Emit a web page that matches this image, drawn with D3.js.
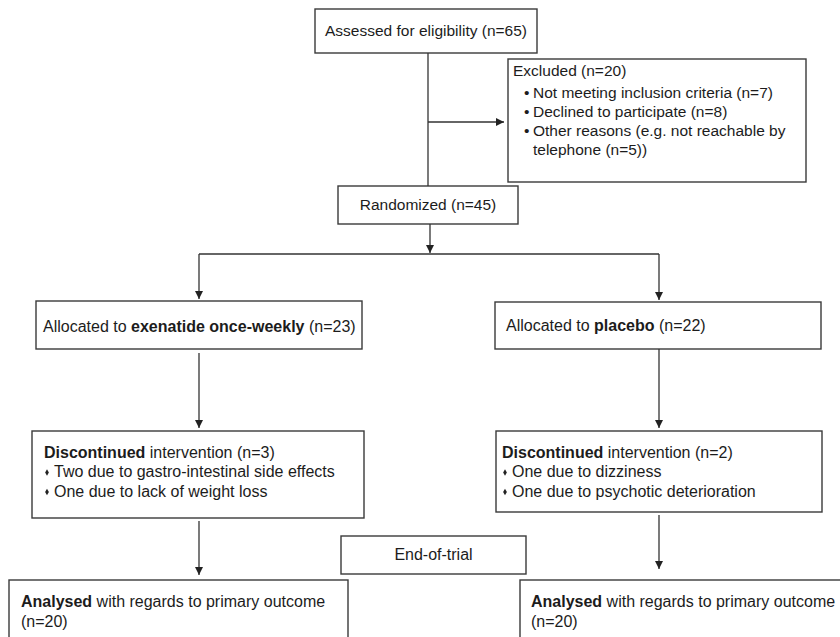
<!DOCTYPE html>
<html>
<head>
    <title>Trial flow diagram</title>
    <script src="https://cdnjs.cloudflare.com/ajax/libs/d3/7.8.5/d3.min.js"></script>
    <style>
        body {
            margin: 0;
            padding: 0;
            background: white;
        }
        svg text {
            font-family: "Liberation Sans", Arial, Helvetica, sans-serif;
            fill: #1c1c1c;
        }
    </style>
</head>
<body>
    <svg id="flow" width="840" height="637"></svg>

    <script>
        // Flow data
        const stageLabels = ["Assessed for eligibility", "Randomized"];
        const stageCounts = [65, 45];
        const excludedTotal = 20;
        const exclusionReasons = ["Not meeting inclusion criteria", "Declined to participate", "Other reasons (e.g. not reachable by telephone"];
        const exclusionCounts = [7, 8, 5];
        const arms = ["exenatide once-weekly", "placebo"];
        const allocatedCounts = [23, 22];
        const discontinuedCounts = [3, 2];
        const discontinuedReasons = [
            ["Two due to gastro-intestinal side effects", "One due to lack of weight loss"],
            ["One due to dizziness", "One due to psychotic deterioration"]
        ];
        const analysedCounts = [20, 20];
        const phaseLabel = "End-of-trial";

        const svg = d3.select('#flow');
        const stroke = '#333';

        // column centres for the two arms
        const armX = d3.scalePoint().domain(arms).range([199, 659]);
        const mainX = 428;

        // arrowhead
        svg.append('defs').append('marker')
            .attr('id', 'arrow')
            .attr('viewBox', '0 0 10 10')
            .attr('refX', 10)
            .attr('refY', 5)
            .attr('markerWidth', 8)
            .attr('markerHeight', 8)
            .attr('markerUnits', 'userSpaceOnUse')
            .attr('orient', 'auto')
            .append('path')
            .attr('d', 'M0,0L10,5L0,10Z')
            .attr('fill', '#222');

        // Boxes (layout only)
        const boxes = [
            {x: 315, y: 9, w: 222, h: 44},
            {x: 508, y: 59, w: 298, h: 123},
            {x: 338, y: 186, w: 180, h: 38},
            {x: 36, y: 301, w: 326, h: 48},
            {x: 495, y: 302, w: 326, h: 47},
            {x: 32, y: 431, w: 332, h: 87},
            {x: 496, y: 431, w: 326, h: 81},
            {x: 341, y: 536, w: 185, h: 38},
            {x: 9, y: 580, w: 339, h: 80},
            {x: 520, y: 580, w: 340, h: 80}
        ];

        svg.append('g').selectAll('rect')
            .data(boxes)
            .join('rect')
            .attr('x', d => d.x)
            .attr('y', d => d.y)
            .attr('width', d => d.w)
            .attr('height', d => d.h)
            .attr('fill', 'white')
            .attr('stroke', '#3a3a3a')
            .attr('stroke-width', 1.4);

        // Connectors
        const xl = armX(arms[0]), xr = armX(arms[1]);
        const connectors = [
            {x1: mainX, y1: 53, x2: mainX, y2: 186},
            {x1: mainX, y1: 122, x2: 504, y2: 122, arrow: true},
            {x1: 430, y1: 224, x2: 430, y2: 253, arrow: true},
            {x1: xl, y1: 254, x2: xr, y2: 254},
            {x1: xl, y1: 254, x2: xl, y2: 299, arrow: true},
            {x1: xr, y1: 254, x2: xr, y2: 300, arrow: true},
            {x1: xl, y1: 353, x2: xl, y2: 428, arrow: true},
            {x1: xr, y1: 349, x2: xr, y2: 428, arrow: true},
            {x1: xl, y1: 521, x2: xl, y2: 575, arrow: true},
            {x1: xr, y1: 515, x2: xr, y2: 569, arrow: true}
        ];

        svg.append('g').selectAll('line')
            .data(connectors)
            .join('line')
            .attr('x1', d => d.x1)
            .attr('y1', d => d.y1)
            .attr('x2', d => d.x2)
            .attr('y2', d => d.y2)
            .attr('stroke', stroke)
            .attr('stroke-width', 1.3)
            .attr('marker-end', d => d.arrow ? 'url(#arrow)' : null);

        const textGroup = svg.append('g');

        // add a line of text made of [text, bold] segments
        function addLine(x, y, segments, size, anchor) {
            const t = textGroup.append('text')
                .attr('x', x)
                .attr('y', y)
                .attr('font-size', size)
                .attr('text-anchor', anchor || 'start');
            segments.forEach(([s, bold]) => {
                t.append('tspan')
                    .attr('font-weight', bold ? 'bold' : 'normal')
                    .text(s);
            });
            return t;
        }

        // top part
        addLine(426, 36, [[`${stageLabels[0]} (n=${stageCounts[0]})`]], 15.5, 'middle');
        addLine(428, 210, [[`${stageLabels[1]} (n=${stageCounts[1]})`]], 15.5, 'middle');

        addLine(513, 76, [[`Excluded (n=${excludedTotal})`]], 15.5);
        const exclLines = [];
        exclusionReasons.forEach((r, i) => {
            const full = `${r} (n=${exclusionCounts[i]})` + (r.includes('(') ? ')' : '');
            // wrap at box width
            const words = full.split(' ');
            let line = [];
            const rows = [];
            const probe = textGroup.append('text').attr('font-size', 15.5);
            words.forEach(w => {
                probe.text([...line, w].join(' '));
                if (probe.node().getComputedTextLength() > 270 && line.length) {
                    rows.push(line.join(' '));
                    line = [w];
                } else {
                    line.push(w);
                }
            });
            rows.push(line.join(' '));
            probe.remove();
            rows.forEach((row, j) => exclLines.push({text: row, bullet: j === 0}));
        });
        exclLines.forEach((d, i) => {
            const y = 98 + i * 19;
            if (d.bullet) addLine(524, y, [['•']], 15.5);
            addLine(533, y, [[d.text]], 15.5);
        });

        // arms
        const allocX = [43, 506], allocY = [332, 331];
        const discX = [44, 502], bulletX = [47, 505], reasonX = [54, 512];
        const anaX = [21, 531];
        arms.forEach((arm, i) => {
            addLine(allocX[i], allocY[i], [['Allocated to '], [arm, true], [` (n=${allocatedCounts[i]})`]], 16);

            addLine(discX[i], 458, [['Discontinued', true], [` intervention (n=${discontinuedCounts[i]})`]], 16);
            discontinuedReasons[i].forEach((r, j) => {
                const y = 477 + j * 19.5;
                textGroup.append('path')
                    .attr('transform', `translate(${bulletX[i]},${y - 4.5})`)
                    .attr('d', d3.symbol(d3.symbolDiamond, 12)())
                    .attr('fill', '#222');
                addLine(reasonX[i], y, [[r]], 16);
            });

            addLine(anaX[i], 607, [['Analysed', true], [' with regards to primary outcome']], 16);
            addLine(anaX[i], 627, [[`(n=${analysedCounts[i]})`]], 16);
        });

        addLine(433.5, 560, [[phaseLabel]], 16, 'middle');
    </script>
</body>
</html>
